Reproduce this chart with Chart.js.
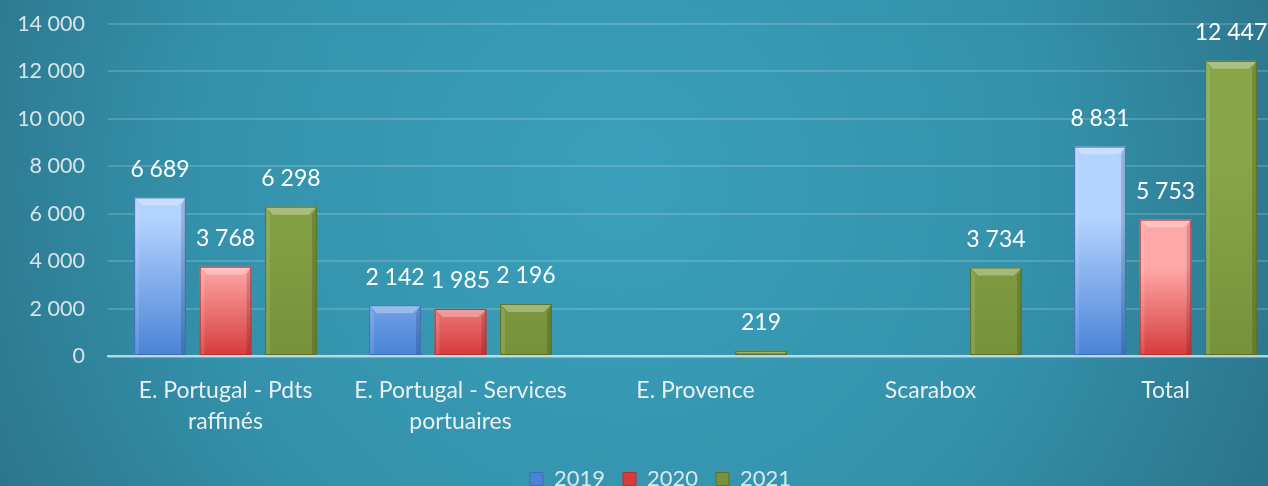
<!DOCTYPE html>
<html>
<head>
<meta charset="utf-8">
<script src="https://cdn.jsdelivr.net/npm/chart.js@4/dist/chart.umd.min.js"></script>
<style>
  html, body { margin: 0; padding: 0; overflow: hidden; background: #2e7f95; }
  #wrap { width: 1283px; height: 500px; }
</style>
</head>
<body>
<div id="wrap"><canvas id="chart" width="1283" height="500"></canvas></div>
<script>
const categories = [
    ['E. Portugal - Pdts', 'raffinés'],
    ['E. Portugal - Services', 'portuaires'],
    'E. Provence',
    'Scarabox',
    'Total'
];
const values2019 = [6689, 2142, null, null, 8831];
const values2020 = [3768, 1985, null, null, 5753];
const values2021 = [6298, 2196, 219, 3734, 12447];
const yTicks = [0, 2000, 4000, 6000, 8000, 10000, 12000, 14000];

const palette = {
    '2019': { top: '#b2d2ff', bottom: '#4a83d6', edge: '#3d6fb8' },
    '2020': { top: '#ffa8a8', bottom: '#d63c3c', edge: '#b33232' },
    '2021': { top: '#88a648', bottom: '#76923a', edge: '#5a7028' }
};

const PLOT_BOTTOM = 356;
const LEGEND_SHIFT = 19;

function fmt(v) {
    return String(v).replace(/\B(?=(\d{3})+(?!\d))/g, ' ');
}

const background = {
    id: 'background',
    beforeDraw(chart) {
        const c = chart.ctx;
        const w = chart.width, h = chart.height;
        const g = c.createRadialGradient(620, 180, 20, 620, 180, 760);
        g.addColorStop(0, '#3a9fba');
        g.addColorStop(0.55, '#3491ab');
        g.addColorStop(1, '#296f85');
        c.save();
        c.fillStyle = g;
        c.fillRect(0, 0, w, h);
        c.restore();
    }
};

// legend sits a bit right of the canvas centre in the original
const legendOffset = {
    id: 'legendOffset',
    afterLayout(chart) {
        if (chart.legend) {
            chart.legend.left += LEGEND_SHIFT;
            chart.legend.right += LEGEND_SHIFT;
        }
    }
};

// per-bar vertical gradient, built from each bar's own top and base
const barGradient = {
    id: 'barGradient',
    beforeDatasetsDraw(chart) {
        const c = chart.ctx;
        chart.data.datasets.forEach((ds, di) => {
            const meta = chart.getDatasetMeta(di);
            meta.data.forEach((bar, i) => {
                if (ds.data[i] == null) return;
                const g = c.createLinearGradient(0, bar.y, 0, Math.max(bar.base, bar.y + 1));
                g.addColorStop(0, palette[ds.label].top);
                g.addColorStop(0.35, palette[ds.label].top);
                g.addColorStop(1, palette[ds.label].bottom);
                bar.options.backgroundColor = g;
            });
        });
    }
};

const bevel = {
    id: 'bevel',
    afterDatasetsDraw(chart) {
        const c = chart.ctx;
        chart.data.datasets.forEach((ds, di) => {
            const meta = chart.getDatasetMeta(di);
            const key = ds.label;
            meta.data.forEach((bar, i) => {
                if (ds.data[i] == null) return;
                const left = bar.x - bar.width / 2;
                const right = bar.x + bar.width / 2;
                const top = bar.y;
                const bottom = bar.base;
                const h = bottom - top;
                const b = Math.min(8, h / 2);
                c.save();
                c.fillStyle = 'rgba(255,255,255,0.3)';
                c.beginPath();
                c.moveTo(left, top);
                c.lineTo(right, top);
                c.lineTo(right - b, top + b);
                c.lineTo(left + b, top + b);
                c.closePath();
                c.fill();
                c.fillStyle = 'rgba(255,255,255,0.12)';
                c.beginPath();
                c.moveTo(left, top);
                c.lineTo(left + b * 0.6, top + b);
                c.lineTo(left + b * 0.6, bottom);
                c.lineTo(left, bottom);
                c.closePath();
                c.fill();
                c.fillStyle = 'rgba(0,0,0,0.15)';
                c.beginPath();
                c.moveTo(right, top);
                c.lineTo(right - b * 0.6, top + b);
                c.lineTo(right - b * 0.6, bottom);
                c.lineTo(right, bottom);
                c.closePath();
                c.fill();
                c.strokeStyle = palette[key].edge;
                c.lineWidth = 1;
                c.strokeRect(left + 0.5, top + 0.5, bar.width - 1, h - 1);
                c.restore();
            });
        });
    }
};

const valueLabels = {
    id: 'valueLabels',
    afterDatasetsDraw(chart) {
        const c = chart.ctx;
        c.save();
        c.font = '23px Lato';
        c.fillStyle = '#ffffff';
        c.textAlign = 'center';
        c.textBaseline = 'middle';
        chart.data.datasets.forEach((ds, di) => {
            const meta = chart.getDatasetMeta(di);
            meta.data.forEach((bar, i) => {
                const v = ds.data[i];
                if (v == null) return;
                c.fillText(fmt(v), bar.x, bar.y - 28);
            });
        });
        c.restore();
    }
};

function dataset(label, data) {
    return {
        label: label,
        data: data,
        backgroundColor: palette[label].bottom,
        borderWidth: 0,
        categoryPercentage: 0.836,
        barPercentage: 0.79
    };
}

new Chart(document.getElementById('chart'), {
    type: 'bar',
    data: {
        labels: categories,
        datasets: [
            dataset('2019', values2019),
            dataset('2020', values2020),
            dataset('2021', values2021)
        ]
    },
    options: {
        responsive: false,
        animation: false,
        layout: { padding: { top: 24, right: 0, left: 0, bottom: 0 } },
        plugins: {
            tooltip: { enabled: false },
            legend: {
                position: 'bottom',
                labels: {
                    color: '#d8e8ee',
                    font: { family: 'Lato', size: 22 },
                    boxWidth: 13,
                    boxHeight: 13,
                    padding: 18,
                    generateLabels(chart) {
                        return chart.data.datasets.map((ds, i) => ({
                            text: ds.label,
                            fillStyle: palette[ds.label].bottom,
                            strokeStyle: palette[ds.label].edge,
                            lineWidth: 1,
                            fontColor: '#d8e8ee',
                            datasetIndex: i,
                            hidden: false
                        }));
                    }
                }
            }
        },
        scales: {
            x: {
                afterFit(scale) {
                    const lh = scale.chart.legend ? scale.chart.legend.height : 0;
                    scale.height = scale.chart.height - lh - PLOT_BOTTOM;
                },
                grid: { display: false, drawTicks: false },
                border: { color: 'rgba(255,255,255,0.6)', width: 2.5 },
                ticks: {
                    color: '#e8f0f2',
                    font: { family: 'Lato', size: 23, lineHeight: 1.35 },
                    padding: 19,
                    maxRotation: 0,
                    autoSkip: false
                }
            },
            y: {
                min: 0,
                max: 14000,
                afterBuildTicks(scale) {
                    scale.ticks = yTicks.map(v => ({ value: v }));
                },
                afterFit(scale) {
                    scale.width = 108;
                },
                grid: {
                    color: 'rgba(255,255,255,0.16)',
                    lineWidth: 2,
                    drawTicks: true,
                    tickLength: 23,
                    tickColor: 'rgba(0,0,0,0)'
                },
                border: { display: false },
                ticks: {
                    color: '#d8e4e8',
                    font: { family: 'Lato', size: 21.5 },
                    padding: 0,
                    callback: v => fmt(v)
                }
            }
        }
    },
    plugins: [background, legendOffset, barGradient, bevel, valueLabels]
});
</script>
</body>
</html>
